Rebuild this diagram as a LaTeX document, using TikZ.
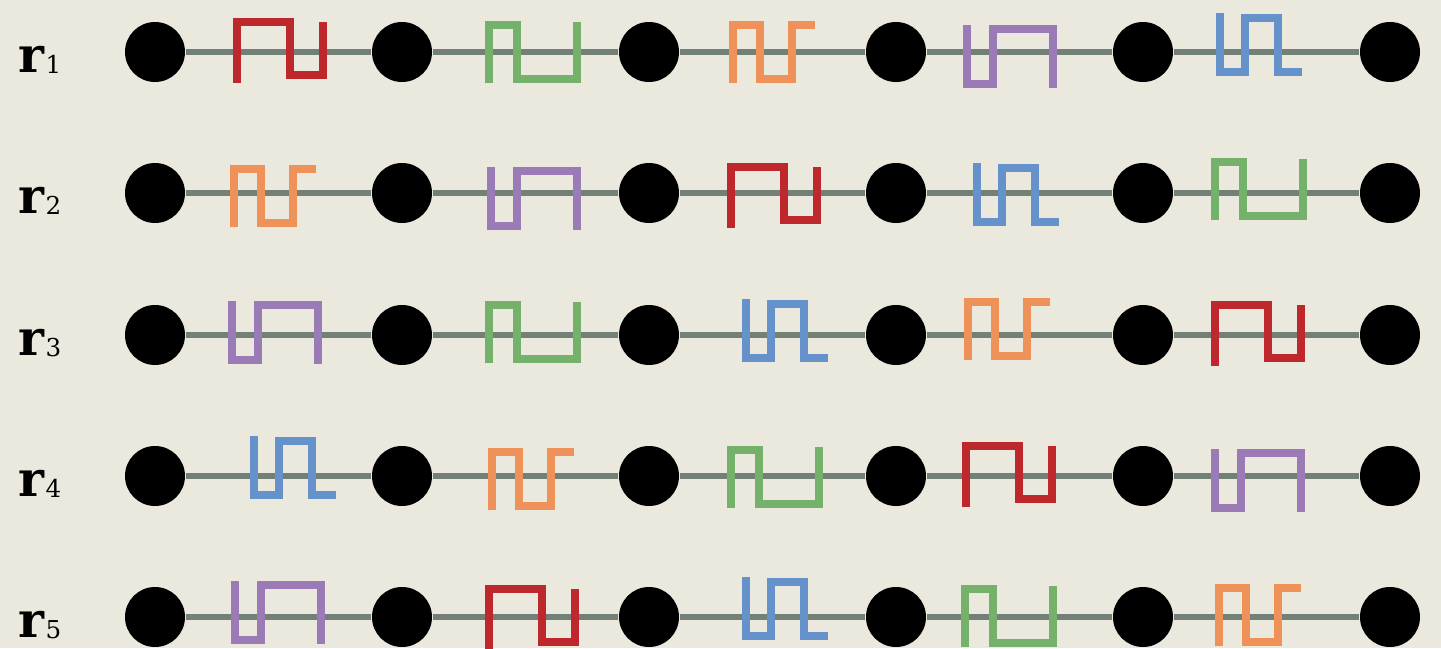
\documentclass[tikz,border=0pt]{standalone}
\usepackage{fontspec}
\newfontfamily\labfont{DejaVu Serif}
\usepackage{tikz}

\definecolor{paper}{RGB}{235,233,221}
\definecolor{wire}{RGB}{115,128,120}
\definecolor{pred}{RGB}{190,40,45}
\definecolor{pgreen}{RGB}{116,177,106}
\definecolor{porange}{RGB}{238,146,89}
\definecolor{ppurple}{RGB}{154,123,181}
\definecolor{pblue}{RGB}{101,146,202}

\tikzset{
  site/.style={circle, fill=black, minimum size=6mm, inner sep=0pt},
  wireline/.style={wire, line width=1.6pt},
  pulse/.style={line width=2pt},
  rowlab/.style={anchor=base west, inner sep=0pt, font=\labfont},
  pics/redpulse/.style={code={\draw[pulse, pred] (0,-31) -- (0,30) -- (53,30) -- (53,-23) -- (86,-23) -- (86,30);}},
  pics/greenpulse/.style={code={\draw[pulse, pgreen] (0,-31) -- (0,27) -- (28,27) -- (28,-27) -- (88,-27) -- (88,30);}},
  pics/orangepulse/.style={code={\draw[pulse, porange] (0,-31) -- (0,27) -- (27,27) -- (27,-27) -- (59,-27) -- (59,27) -- (82,27);}},
  pics/purplepulse/.style={code={\draw[pulse, ppurple] (0,27) -- (0,-32) -- (26,-32) -- (26,23) -- (86,23) -- (86,-36);}},
  pics/bluepulse/.style={code={\draw[pulse, pblue] (0,39) -- (0,-20) -- (25,-20) -- (25,34) -- (58,34) -- (58,-20) -- (82,-20);}},
}
\newcommand{\rlab}[1]{{\fontsize{14}{14}\selectfont\bfseries r}\kern0.3pt\raisebox{-0.4pt}{\fontsize{7}{7}\selectfont #1}}

\begin{document}
\begin{tikzpicture}[x=0.1mm, y=0.1mm]
  \fill[paper] (0,0) rectangle (1441,648);
  \useasboundingbox (0,0) rectangle (1441,648);

  % row 1
  \node[rowlab] (lab1) at (18,576) {\rlab{1}};
  \node[site] (n11) at (155,596) {};
  \node[site] (n12) at (402,596) {};
  \node[site] (n13) at (649,596) {};
  \node[site] (n14) at (896,596) {};
  \node[site] (n15) at (1143,596) {};
  \node[site] (n16) at (1390,596) {};
  \draw[wireline] (n11) -- (n12) (n12) -- (n13) (n13) -- (n14) (n14) -- (n15) (n15) -- (n16);
  \pic at (237,596) {redpulse};
  \pic at (489,596) {greenpulse};
  \pic at (733,596) {orangepulse};
  \pic at (967,596) {purplepulse};
  \pic at (1220,596) {bluepulse};

  % row 2
  \node[rowlab] (lab2) at (18,435) {\rlab{2}};
  \node[site] (n21) at (155,455) {};
  \node[site] (n22) at (402,455) {};
  \node[site] (n23) at (649,455) {};
  \node[site] (n24) at (896,455) {};
  \node[site] (n25) at (1143,455) {};
  \node[site] (n26) at (1390,455) {};
  \draw[wireline] (n21) -- (n22) (n22) -- (n23) (n23) -- (n24) (n24) -- (n25) (n25) -- (n26);
  \pic at (234,452) {orangepulse};
  \pic at (491,454) {purplepulse};
  \pic at (731,451) {redpulse};
  \pic at (977,446) {bluepulse};
  \pic at (1215,459) {greenpulse};

  % row 3
  \node[rowlab] (lab3) at (18,293) {\rlab{3}};
  \node[site] (n31) at (155,313) {};
  \node[site] (n32) at (402,313) {};
  \node[site] (n33) at (649,313) {};
  \node[site] (n34) at (896,313) {};
  \node[site] (n35) at (1143,313) {};
  \node[site] (n36) at (1390,313) {};
  \draw[wireline] (n31) -- (n32) (n32) -- (n33) (n33) -- (n34) (n34) -- (n35) (n35) -- (n36);
  \pic at (232,320) {purplepulse};
  \pic at (489,316) {greenpulse};
  \pic at (746,310) {bluepulse};
  \pic at (968,319) {orangepulse};
  \pic at (1215,313) {redpulse};

  % row 4
  \node[rowlab] (lab4) at (18,152) {\rlab{4}};
  \node[site] (n41) at (155,172) {};
  \node[site] (n42) at (402,172) {};
  \node[site] (n43) at (649,172) {};
  \node[site] (n44) at (896,172) {};
  \node[site] (n45) at (1143,172) {};
  \node[site] (n46) at (1390,172) {};
  \draw[wireline] (n41) -- (n42) (n42) -- (n43) (n43) -- (n44) (n44) -- (n45) (n45) -- (n46);
  \pic at (254,173) {bluepulse};
  \pic at (492,169) {orangepulse};
  \pic at (731,171) {greenpulse};
  \pic at (966,172) {redpulse};
  \pic at (1215,172) {purplepulse};

  % row 5
  \node[rowlab] (lab5) at (18,11) {\rlab{5}};
  \node[site] (n51) at (155,31) {};
  \node[site] (n52) at (402,31) {};
  \node[site] (n53) at (649,31) {};
  \node[site] (n54) at (896,31) {};
  \node[site] (n55) at (1143,31) {};
  \node[site] (n56) at (1390,31) {};
  \draw[wireline] (n51) -- (n52) (n52) -- (n53) (n53) -- (n54) (n54) -- (n55) (n55) -- (n56);
  \pic at (235,40) {purplepulse};
  \pic at (489,29) {redpulse};
  \pic at (746,32) {bluepulse};
  \pic at (965,32) {greenpulse};
  \pic at (1219,33) {orangepulse};
\end{tikzpicture}
\end{document}
